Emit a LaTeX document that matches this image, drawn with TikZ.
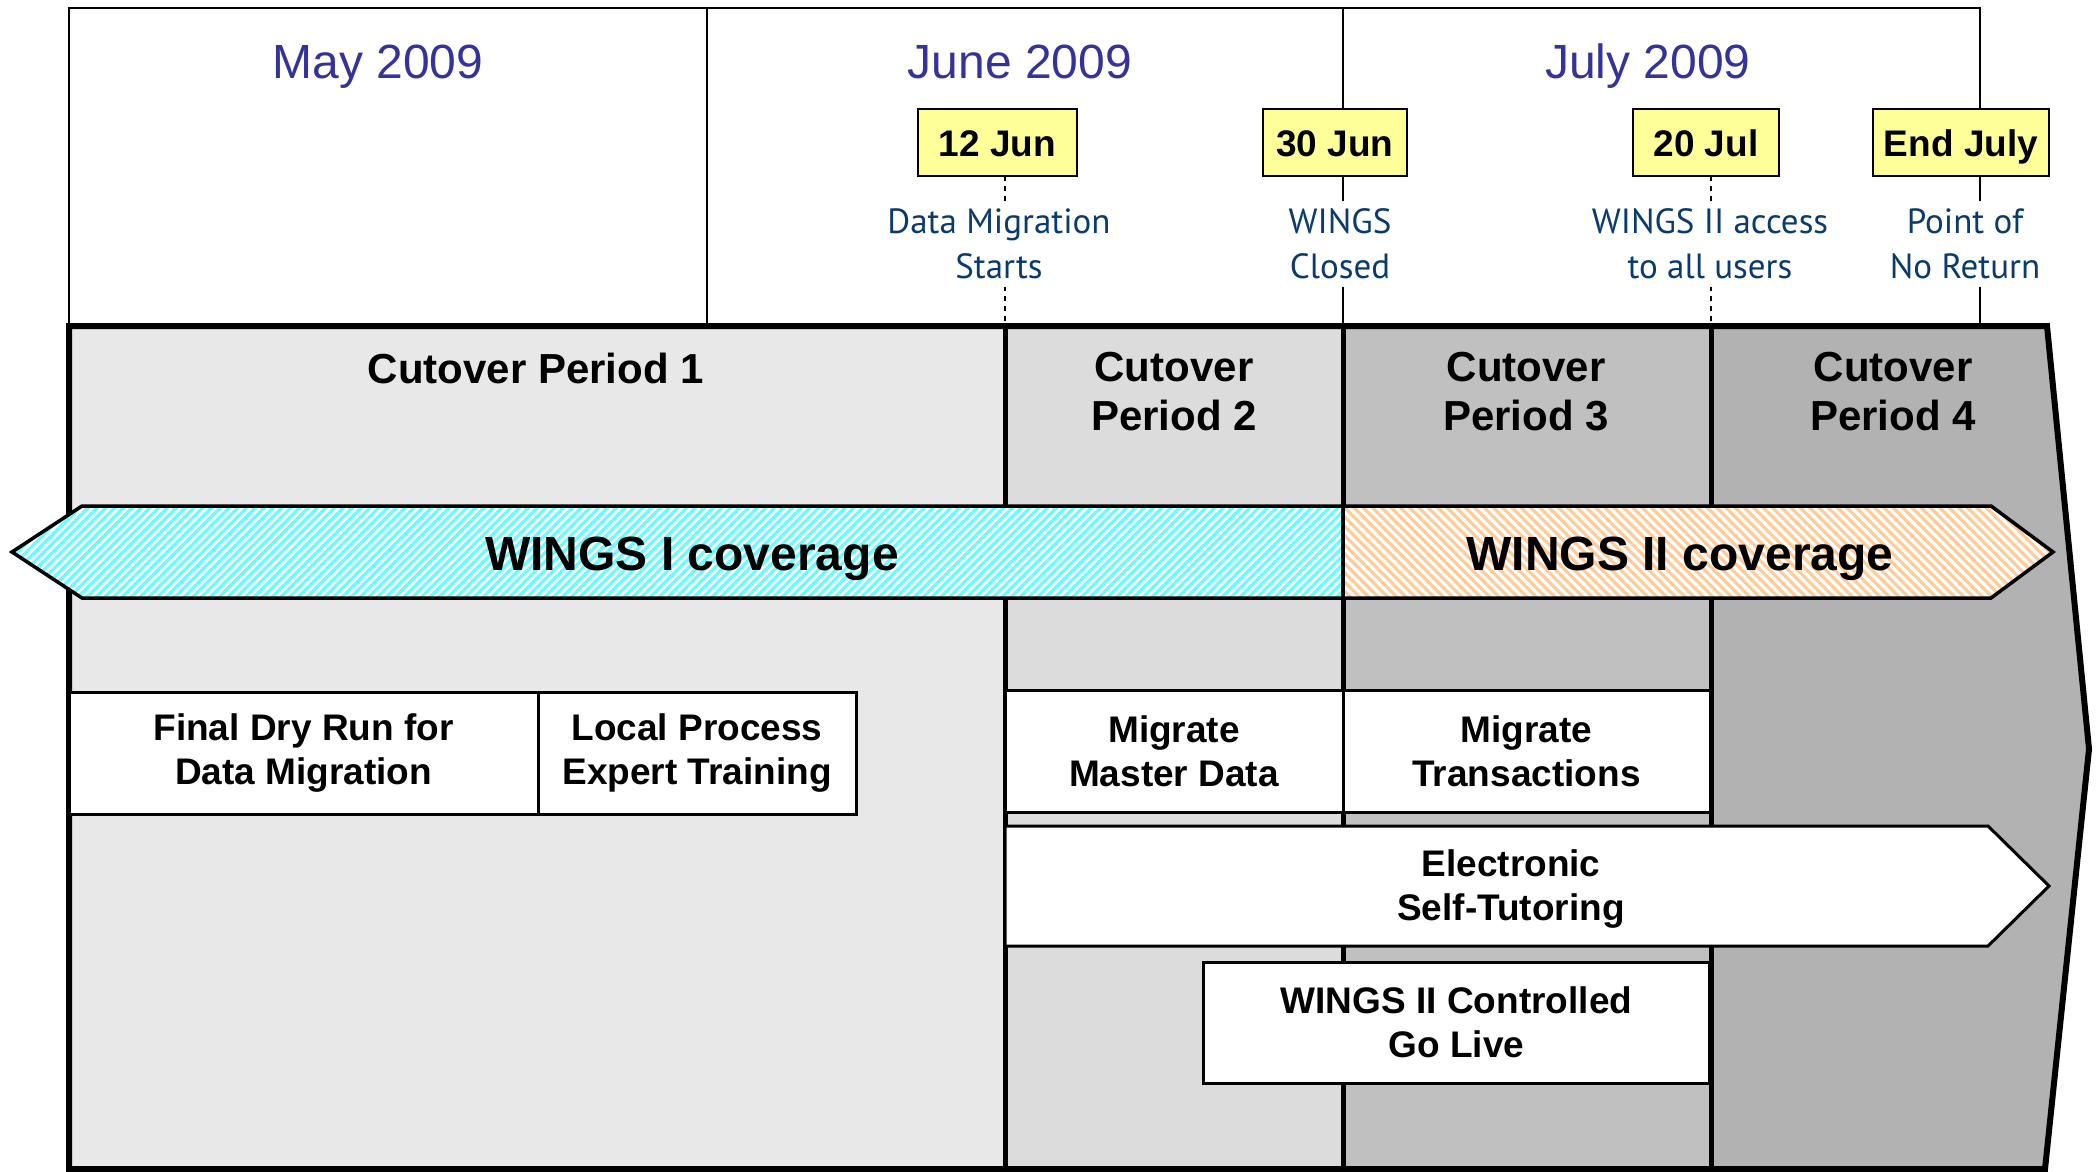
\documentclass[tikz,border=0pt]{standalone}
\usepackage{fontspec}
\setmainfont{Liberation Sans}
\newfontfamily\notefont{PT Sans}

\definecolor{monthblue}{HTML}{333399}
\definecolor{noteblue}{HTML}{0A3A6E}
\definecolor{dateyellow}{HTML}{FFFF99}
\definecolor{perone}{HTML}{E8E8E8}
\definecolor{pertwo}{HTML}{DCDCDC}
\definecolor{perthree}{HTML}{C0C0C0}
\definecolor{perfour}{HTML}{B2B2B2}
\definecolor{hatchcyan}{HTML}{66FFFF}
\definecolor{hatchorange}{HTML}{FFCC99}

\tikzset{
  thinline/.style={line width=1pt},
  markdash/.style={line width=1pt, dash pattern=on 2.5pt off 2.5pt},
  bandline/.style={line width=3pt, line join=miter},
  perioddivider/.style={line width=2.5pt},
  monthlabel/.style={text=monthblue, anchor=base, font=\fontsize{24}{28}\selectfont},
  datebox/.style={draw, line width=1pt, fill=dateyellow, minimum height=33.5pt,
    inner sep=0pt, text height=13.5pt, text depth=0pt,
    font=\bfseries\fontsize{18.5}{22}\selectfont},
  notetext/.style={fill=white, text=noteblue, align=center, inner sep=4pt,
    font=\notefont\fontsize{17.5}{22.5}\selectfont},
  periodtitle/.style={align=center, font=\bfseries\fontsize{21}{24.5}\selectfont},
  coverline/.style={line width=1.75pt, line join=miter},
  hatchline/.style={line width=1.6pt},
  covertext/.style={text depth=0pt, font=\bfseries\fontsize{24}{28}\selectfont},
  taskbox/.style={draw, line width=1.5pt, fill=white, align=center, inner sep=0pt,
    minimum height=61pt, font=\bfseries\fontsize{18.5}{22}\selectfont},
}

\begin{document}
\begin{tikzpicture}[x=0.5pt,y=-0.5pt]
  \useasboundingbox (0,0) rectangle (2098,1172);
  % month frame
  \coordinate (fl) at (69,8);
  \coordinate (fr) at (1980,8);
  \coordinate (d1) at (707,8);
  \coordinate (d2) at (1343,8);
  \coordinate (bt) at (69,326);
  \coordinate (bb) at (69,1169);
  \draw[thinline] (bt) -- (fl) -- (fr) -- (fr |- bt);
  \draw[thinline] (d1) -- (d1 |- bt);
  \draw[thinline] (d2) -- (d2 |- bt);
  % dashed markers
  \coordinate (m1) at (1005,176);
  \coordinate (m3) at (1711,176);
  \draw[markdash] (m1) -- (m1 |- bt);
  \draw[markdash] (m3) -- (m3 |- bt);

  % cutover periods
  \coordinate (p12) at (1005,326);
  \coordinate (p23) at (1343,326);
  \coordinate (p34) at (1711,326);
  \fill[perone] (bt) rectangle (p12 |- bb);
  \fill[pertwo] (p12) rectangle (p23 |- bb);
  \fill[perthree] (p23) rectangle (p34 |- bb);
  \fill[perfour] (p34) -- (2047,326) -- (2089,749) -- (2045,1169) -- (p34 |- bb) -- cycle;
  \draw[perioddivider] (p12) -- (p12 |- bb);
  \draw[perioddivider] (p23) -- (p23 |- bb);
  \draw[perioddivider] (p34) -- (p34 |- bb);
  \draw[bandline] (bt) -- (2047,326) -- (2089,749) -- (2045,1169) -- (bb) -- cycle;

  \node[periodtitle] (cp1) at (536,368) {Cutover Period 1};
  \node[periodtitle] (cp2) at (1174,392) {Cutover\\Period 2};
  \node[periodtitle] (cp3) at (1526,392) {Cutover\\Period 3};
  \node[periodtitle] (cp4) at (1893,392) {Cutover\\Period 4};

  % coverage arrows
  \fill[white] (12,552) -- (82,506) -- (1343,506) -- (1343,598) -- (82,598) -- cycle;
  \begin{scope}
    \clip (12,552) -- (82,506) -- (1343,506) -- (1343,598) -- (82,598) -- cycle;
    \foreach \sx in {-90,-81.2,...,1350}
      \draw[hatchline, hatchcyan] (\sx,598) -- (\sx+92,506);
  \end{scope}
  \draw[coverline] (12,552) -- (82,506) -- (1343,506) -- (1343,598) -- (82,598) -- cycle;
  \fill[white] (1343,506) -- (1991,506) -- (2053,552) -- (1991,598) -- (1343,598) -- cycle;
  \begin{scope}
    \clip (1343,506) -- (1991,506) -- (2053,552) -- (1991,598) -- (1343,598) -- cycle;
    \foreach \sx in {1250,1259.3,...,2060}
      \draw[hatchline, hatchorange] (\sx,506) -- (\sx+92,598);
  \end{scope}
  \draw[coverline] (1343,506) -- (1991,506) -- (2053,552) -- (1991,598) -- (1343,598) -- cycle;
  \node[covertext] (wings1) at (692,554) {WINGS I coverage};
  \node[covertext] (wings2) at (1680,554) {WINGS II coverage};

  % tasks
  \node[taskbox, minimum width=234.5pt] (dryrun) at (303.5,753) {Final Dry Run for\\Data Migration};
  \node[taskbox, minimum width=159pt] (lpe) at (697,753) {Local Process\\Expert Training};
  \node[taskbox, minimum width=169pt] (master) at (1174,751) {Migrate\\Master Data};
  \node[taskbox, minimum width=183.5pt] (trans) at (1526.5,751) {Migrate\\Transactions};
  \draw[line width=1.5pt, fill=white] (1005,826) -- (1988,826) -- (2049,886) -- (1988,946) -- (1005,946) -- cycle;
  \node[align=center, font=\bfseries\fontsize{18.5}{22}\selectfont] (tutor) at (1511,889) {Electronic\\Self-Tutoring};
  \node[taskbox, minimum width=253pt, minimum height=60.5pt] (golive) at (1456.5,1022.5) {WINGS II Controlled\\Go Live};

  % months and dates
  \node[monthlabel] (may) at (378,79) {May 2009};
  \node[monthlabel] (june) at (1020,79) {June 2009};
  \node[monthlabel] (july) at (1648,79) {July 2009};
  \node[datebox, minimum width=79.5pt] (jun12) at (997.5,142.5) {12 Jun};
  \node[datebox, minimum width=72pt] (jun30) at (1335,142.5) {30 Jun};
  \node[datebox, minimum width=73pt] (jul20) at (1706,142.5) {20 Jul};
  \node[datebox, minimum width=88pt] (julend) at (1961,142.5) {End July};
  \node[notetext] (n1) at (999,244) {Data Migration\\Starts};
  \node[notetext] (n2) at (1340,244) {WINGS\\Closed};
  \node[notetext] (n3) at (1710,244) {WINGS II access\\to all users};
  \node[notetext] (n4) at (1965,244) {Point of\\No Return};
\end{tikzpicture}
\end{document}
